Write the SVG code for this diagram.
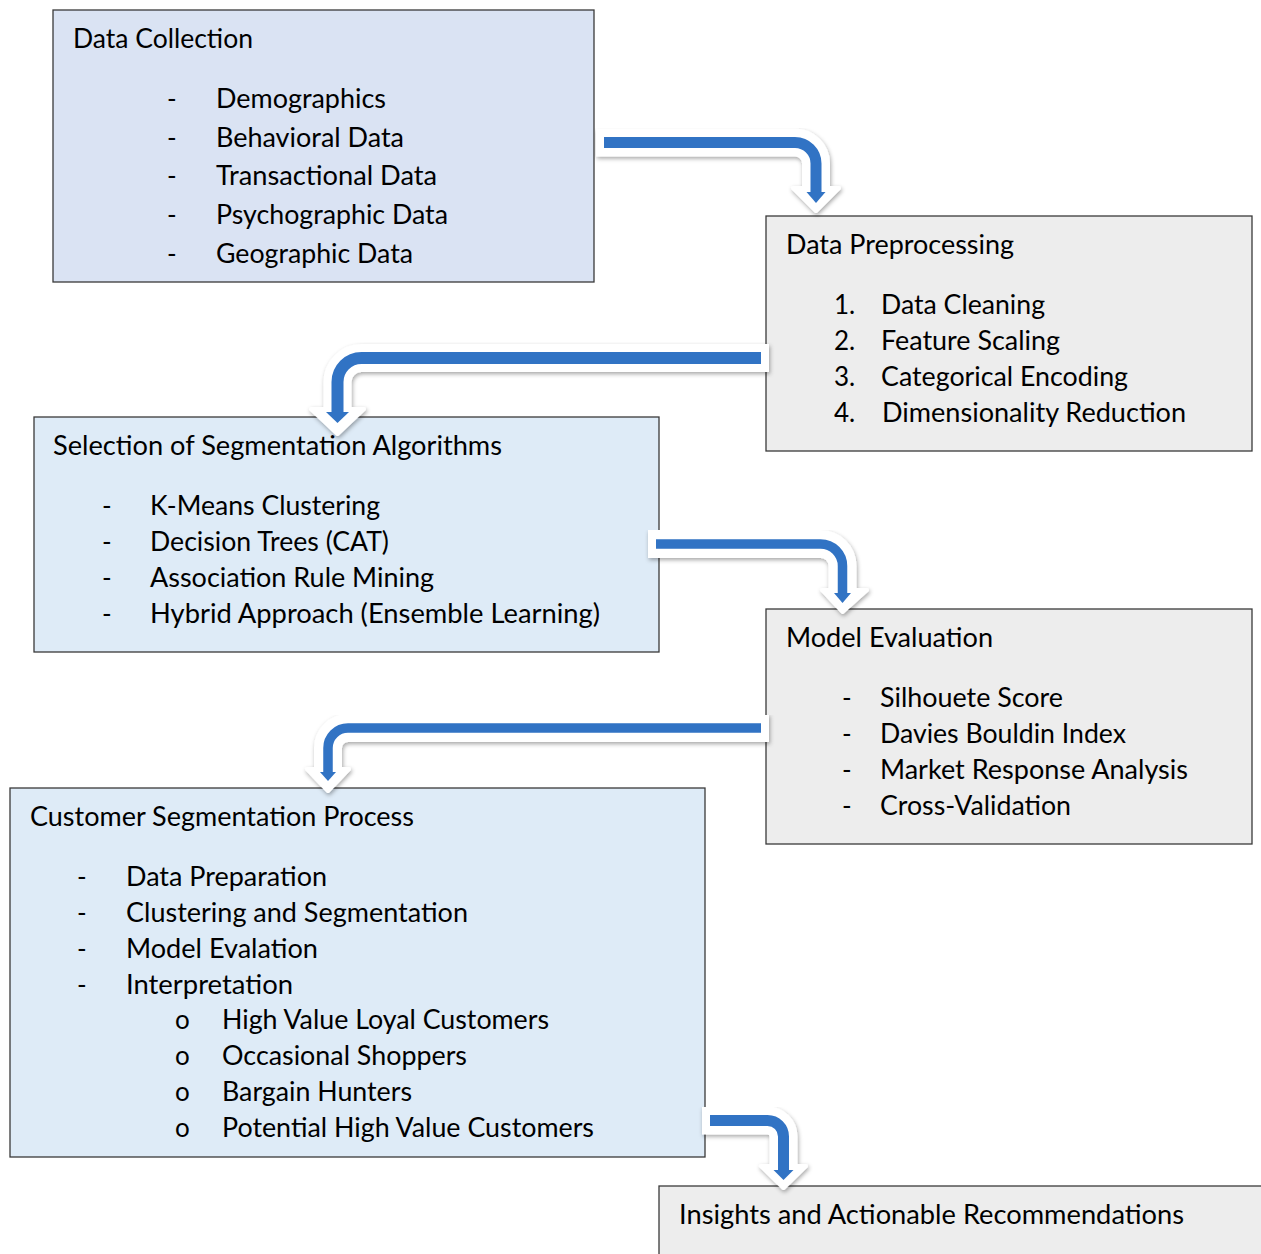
<svg xmlns="http://www.w3.org/2000/svg" width="1261" height="1254" viewBox="0 0 1261 1254">
<style>
.box{stroke:#3a3a3a;stroke-width:1.3}
.blue{fill:#dae3f3}
.lblue{fill:#deebf7}
.gray{fill:#ededed}
text{font-family:Lato,"Open Sans","Liberation Sans",sans-serif;font-size:26px;fill:#000}
.w{fill:none;stroke:#fff;stroke-width:28;stroke-linejoin:round}
.b{fill:none;stroke:#3173c4;stroke-linejoin:round}
.wh{fill:#fff;stroke:#fff;stroke-width:4;stroke-linejoin:round}
.bh{fill:#3173c4}
</style>
<defs>
<filter id="sh" x="-10%" y="-20%" width="120%" height="140%">
<feDropShadow dx="1" dy="2" stdDeviation="2" flood-color="#000" flood-opacity="0.35"/>
</filter>
</defs>
<g id="node-data-collection">
<rect class="box blue" x="53" y="10" width="541" height="272"/>
<text x="73" y="48" textLength="180" lengthAdjust="spacingAndGlyphs">Data Collection</text>
<text x="167" y="108">-</text><text x="216" y="108" textLength="170" lengthAdjust="spacingAndGlyphs">Demographics</text>
<text x="167" y="147">-</text><text x="216" y="147" textLength="188" lengthAdjust="spacingAndGlyphs">Behavioral Data</text>
<text x="167" y="185">-</text><text x="216" y="185" textLength="221" lengthAdjust="spacingAndGlyphs">Transactional Data</text>
<text x="167" y="224">-</text><text x="216" y="224" textLength="232" lengthAdjust="spacingAndGlyphs">Psychographic Data</text>
<text x="167" y="263">-</text><text x="216" y="263" textLength="197" lengthAdjust="spacingAndGlyphs">Geographic Data</text>
</g>
<g id="node-data-preprocessing">
<rect class="box gray" x="766" y="216" width="486" height="235"/>
<text x="786" y="254" textLength="228" lengthAdjust="spacingAndGlyphs">Data Preprocessing</text>
<text x="834" y="314">1.</text><text x="881" y="314" textLength="164" lengthAdjust="spacingAndGlyphs">Data Cleaning</text>
<text x="834" y="350">2.</text><text x="881" y="350" textLength="179" lengthAdjust="spacingAndGlyphs">Feature Scaling</text>
<text x="834" y="386">3.</text><text x="881" y="386" textLength="247" lengthAdjust="spacingAndGlyphs">Categorical Encoding</text>
<text x="834" y="422">4.</text><text x="882" y="422" textLength="304" lengthAdjust="spacingAndGlyphs">Dimensionality Reduction</text>
</g>
<g id="node-selection">
<rect class="box lblue" x="34" y="417" width="625" height="235"/>
<text x="53" y="455" textLength="449" lengthAdjust="spacingAndGlyphs">Selection of Segmentation Algorithms</text>
<text x="102" y="515">-</text><text x="150" y="515" textLength="230" lengthAdjust="spacingAndGlyphs">K-Means Clustering</text>
<text x="102" y="551">-</text><text x="150" y="551" textLength="239" lengthAdjust="spacingAndGlyphs">Decision Trees (CAT)</text>
<text x="102" y="587">-</text><text x="150" y="587" textLength="284" lengthAdjust="spacingAndGlyphs">Association Rule Mining</text>
<text x="102" y="623">-</text><text x="150" y="623" textLength="450" lengthAdjust="spacingAndGlyphs">Hybrid Approach (Ensemble Learning)</text>
</g>
<g id="node-model-evaluation">
<rect class="box gray" x="766" y="609" width="486" height="235"/>
<text x="786" y="647" textLength="207" lengthAdjust="spacingAndGlyphs">Model Evaluation</text>
<text x="842" y="707">-</text><text x="880" y="707" textLength="183" lengthAdjust="spacingAndGlyphs">Silhouete Score</text>
<text x="842" y="743">-</text><text x="880" y="743" textLength="246" lengthAdjust="spacingAndGlyphs">Davies Bouldin Index</text>
<text x="842" y="779">-</text><text x="880" y="779" textLength="308" lengthAdjust="spacingAndGlyphs">Market Response Analysis</text>
<text x="842" y="815">-</text><text x="880" y="815" textLength="191" lengthAdjust="spacingAndGlyphs">Cross-Validation</text>
</g>
<g id="node-customer-segmentation">
<rect class="box lblue" x="10" y="788" width="695" height="369"/>
<text x="30" y="826" textLength="384" lengthAdjust="spacingAndGlyphs">Customer Segmentation Process</text>
<text x="77" y="886">-</text><text x="126" y="886" textLength="201" lengthAdjust="spacingAndGlyphs">Data Preparation</text>
<text x="77" y="922">-</text><text x="126" y="922" textLength="342" lengthAdjust="spacingAndGlyphs">Clustering and Segmentation</text>
<text x="77" y="958">-</text><text x="126" y="958" textLength="192" lengthAdjust="spacingAndGlyphs">Model Evalation</text>
<text x="77" y="994">-</text><text x="126" y="994" textLength="167" lengthAdjust="spacingAndGlyphs">Interpretation</text>
<text x="175" y="1029">o</text><text x="222" y="1029" textLength="327" lengthAdjust="spacingAndGlyphs">High Value Loyal Customers</text>
<text x="175" y="1065">o</text><text x="222" y="1065" textLength="245" lengthAdjust="spacingAndGlyphs">Occasional Shoppers</text>
<text x="175" y="1101">o</text><text x="222" y="1101" textLength="190" lengthAdjust="spacingAndGlyphs">Bargain Hunters</text>
<text x="175" y="1137">o</text><text x="222" y="1137" textLength="372" lengthAdjust="spacingAndGlyphs">Potential High Value Customers</text>
</g>
<g id="node-insights">
<rect class="box gray" x="659" y="1186" width="620" height="90"/>
<text x="679" y="1224" textLength="505" lengthAdjust="spacingAndGlyphs">Insights and Actionable Recommendations</text>
</g>
<g id="connectors">
<g filter="url(#sh)">
<path class="w" d="M596 142.5 H795 A21 21 0 0 1 816 163.5 V192"/>
<polygon class="wh" points="793,188 839,188 816,211"/>
</g>
<path class="b" stroke-width="11" d="M604 142.5 H795 A21 21 0 0 1 816 163.5 V193"/>
<polygon class="bh" points="806.5,192 825.5,192 816,203"/>

<g filter="url(#sh)">
<path class="w" d="M769 358 H361.5 A24 24 0 0 0 337.5 382 V410"/>
<polygon class="wh" points="311,409 364,409 337.5,434"/>
</g>
<path class="b" stroke-width="12" d="M761 358 H361.5 A24 24 0 0 0 337.5 382 V413"/>
<polygon class="bh" points="326,412 349,412 337.5,423"/>

<g filter="url(#sh)">
<path class="w" d="M648 544 H820.5 A22 22 0 0 1 842.5 566 V592"/>
<polygon class="wh" points="822,590 867,590 842.5,612"/>
</g>
<path class="b" stroke-width="9.5" d="M656 544 H820.5 A22 22 0 0 1 842.5 566 V594"/>
<polygon class="bh" points="834,593 851,593 842.5,603"/>

<g filter="url(#sh)">
<path class="w" d="M769 728 H348 A20 20 0 0 0 328 748 V770"/>
<polygon class="wh" points="307,769 349,769 328,791"/>
</g>
<path class="b" stroke-width="9.5" d="M761 728 H348 A20 20 0 0 0 328 748 V773"/>
<polygon class="bh" points="320,772 336,772 328,781"/>

<g filter="url(#sh)">
<path class="w" d="M702 1120.5 H767.5 A16 16 0 0 1 783.5 1136.5 V1168"/>
<polygon class="wh" points="761,1166 806,1166 783.5,1188"/>
</g>
<path class="b" stroke-width="11" d="M710 1120.5 H767.5 A16 16 0 0 1 783.5 1136.5 V1171"/>
<polygon class="bh" points="773.5,1170 793.5,1170 783.5,1180"/>
</g>
</svg>
